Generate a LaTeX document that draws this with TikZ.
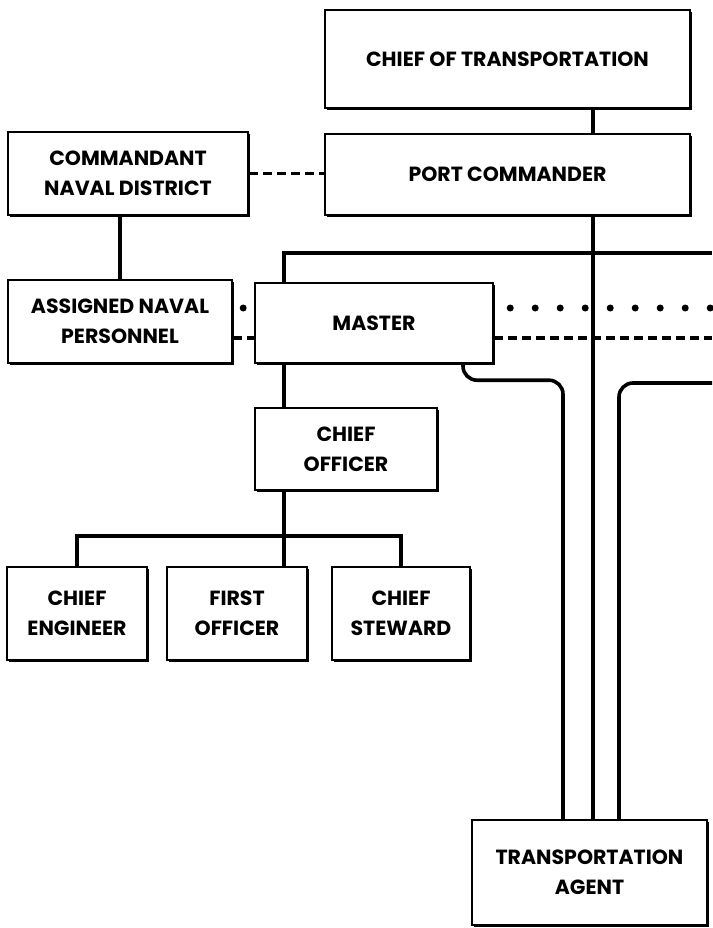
\documentclass[tikz,border=0pt]{standalone}
\usepackage{fontspec}
\setmainfont{Poppins}
\usetikzlibrary{shadows}
\tikzset{
  unit/.style={draw, line width=2.4pt, fill=white, align=center,
    font=\fontsize{20.5}{30}\selectfont\bfseries, inner sep=2pt,
    general shadow={fill=black, shadow xshift=1.6pt, shadow yshift=-1.6pt}},
  link/.style={line width=3.6pt},
  dashlink/.style={line width=3.6pt, dash pattern=on 9pt off 5pt},
  dotlink/.style={line width=7pt, line cap=round, dash pattern=on 0pt off 25pt},
}
\begin{document}
\begin{tikzpicture}[x=1pt, y=-1pt]
      \useasboundingbox (0,0) rectangle (712,928);
      \node[unit, minimum width=365pt, minimum height=98pt] (cot) at (507.5,59) {CHIEF OF TRANSPORTATION};
      \node[unit, minimum width=365pt, minimum height=81pt] (pc) at (507.5,174.5) {PORT COMMANDER};
      \node[unit, minimum width=240pt, minimum height=83pt] (cnd) at (128,173.5) {COMMANDANT\\NAVAL DISTRICT};
      \node[unit, minimum width=224pt, minimum height=83pt] (anp) at (120,321.5) {ASSIGNED NAVAL\\PERSONNEL};
      \node[unit, minimum width=238pt, minimum height=80pt] (master) at (374,323) {MASTER};
      \node[unit, minimum width=182pt, minimum height=82pt] (co) at (346,449) {CHIEF\\OFFICER};
      \node[unit, minimum width=140pt, minimum height=93pt] (ce) at (77,613.5) {CHIEF\\ENGINEER};
      \node[unit, minimum width=140pt, minimum height=93pt] (fo) at (237,613.5) {FIRST\\OFFICER};
      \node[unit, minimum width=138pt, minimum height=93pt] (cs) at (401,613.5) {CHIEF\\STEWARD};
      \node[unit, minimum width=235pt, minimum height=105pt] (ta) at (589.5,872.5) {TRANSPORTATION\\AGENT};
      % columns and rows the links follow
      \coordinate (mx) at (284,0);
      \coordinate (pcx) at (593,0);
      \coordinate (lx) at (463,0);
      \coordinate (lcx) at (563,0);
      \coordinate (rx) at (619,0);
      \coordinate (dotrow) at (0,308);
      \coordinate (dashrow) at (0,338);
      % ends that run off the sheet
      \coordinate (offtop) at (712,253);
      \coordinate (offdot) at (712,308);
      \coordinate (offdash) at (712,338);
      \coordinate (offcurve) at (712,383);
      \begin{scope}[link]
        \draw (cot.south -| pcx) to (pc.north -| pcx);
        \draw (pc.south -| pcx) to (ta.north -| pcx);
        \draw (anp.north |- cnd.south) to (anp.north);
        \draw (master.north -| mx) |- (offtop);
        \draw (master.south -| mx) to (co.north -| mx);
        \draw (co.south -| mx) to (fo.north -| mx);
        \draw (ce.north) -- ++(0,-30) -| (cs.north);
        \draw[rounded corners=14pt] (master.south -| lx) -- ++(0,16) -| (ta.north -| lcx);
        \draw[rounded corners=14pt] (offcurve) -| (ta.north -| rx);
      \end{scope}
      \draw[dashlink] (cnd.east) to (pc.west |- cnd.east);
      \draw[dashlink] (anp.east |- dashrow) to (master.west |- dashrow);
      \draw[dashlink] (master.east |- dashrow) to (offdash);
      \draw[dotlink, dash phase=15pt] (anp.east |- dotrow) to (master.west |- dotrow);
      \draw[dotlink, dash phase=9pt] (master.east |- dotrow) to (offdot);
    \end{tikzpicture}
\end{document}
